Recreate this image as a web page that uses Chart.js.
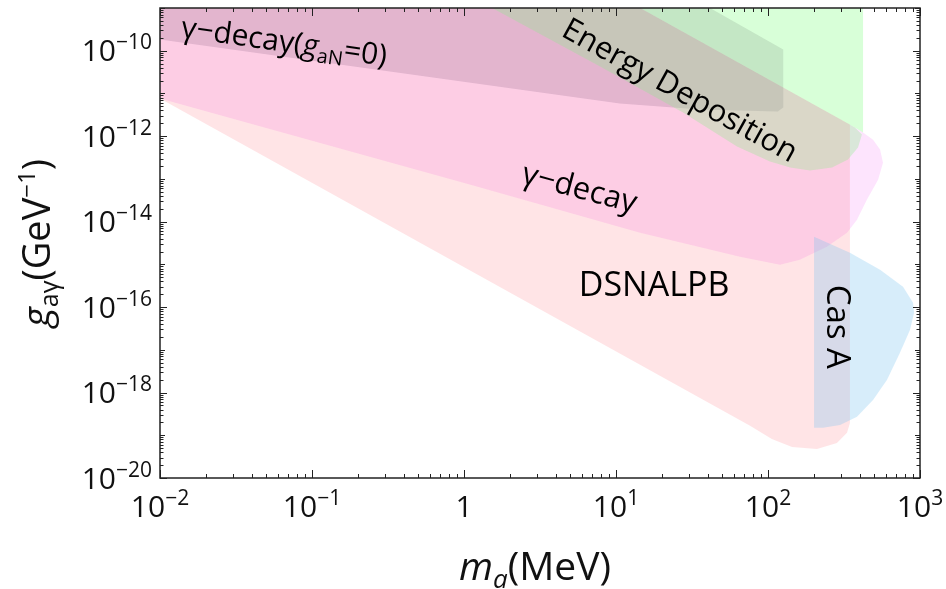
<!DOCTYPE html>
<html lang="en">

<head>
    <meta charset="UTF-8">
    <title>ALP photon coupling bounds</title>
    <script src="https://cdn.jsdelivr.net/npm/chart.js"></script>
    <style>
        body {
            margin: 0;
            background: #fff;
        }
    </style>
</head>

<body>
    <canvas id="bounds" width="946" height="589"></canvas>
    <script>
        // axis ranges and tick exponents
        const massRange = [0.01, 1000];
        const couplingRange = [1e-20, 1e-9];
        const xTickExp = [-2, -1, 0, 1, 2, 3];
        const yTickExp = [-20, -18, -16, -14, -12, -10];

        // gamma-decay region (m_a in MeV, g_ag in GeV^-1)
        const gDecayMass = [0.01, 14.4, 373, 422, 491, 546, 571, 530, 448, 385, 331, 244, 162, 120, 65.4, 14.4, 1.09, 0.01];
        const gDecayCoupling = [1e-9, 1e-9, 1.6e-12, 1.22e-12, 8.3e-13, 4.9e-13, 2.4e-13, 9.6e-14, 3.3e-14, 1.11e-14, 5.5e-15, 2.6e-15, 1.29e-15, 9.8e-16, 1.51e-15, 5.5e-15, 7.4e-14, 7.6e-12];

        // DSNALPB
        const dsnMass = [0.01, 14.4, 346, 346, 331, 284, 210, 144, 106, 76.2, 0.01];
        const dsnCoupling = [1e-9, 1e-9, 1.87e-12, 1.95e-19, 1.14e-19, 6.6e-20, 4.8e-20, 5.3e-20, 8.2e-20, 1.66e-19, 7.6e-12];

        // gamma-decay with g_aN = 0
        const gNullMass = [0.01, 41.5, 126, 126, 116, 35.7, 10.6, 0.01];
        const gNullCoupling = [1e-9, 1e-9, 1.07e-10, 4.7e-12, 3.8e-12, 4.2e-12, 5.8e-12, 1.84e-10];

        // green upper region
        const greenMass = [14.4, 422, 422, 373];
        const greenCoupling = [1e-9, 1e-9, 1.22e-12, 1.6e-12];

        // energy deposition band
        const edMass = [1.53, 14.4, 373, 415, 391, 336, 264, 189, 140, 103, 62.5, 27.6, 7.85];
        const edCoupling = [1e-9, 1e-9, 1.6e-12, 1.09e-12, 5.4e-13, 2.84e-13, 1.84e-13, 1.57e-13, 1.84e-13, 2.55e-13, 5.7e-13, 3.6e-12, 4.3e-11];

        // Cas A
        const casMass = [201, 346, 546, 773, 900, 914, 859, 738, 607, 491, 385, 298, 230, 201];
        const casCoupling = [4.4e-15, 1.87e-15, 7.5e-16, 3.0e-16, 1.26e-16, 7.4e-17, 2.9e-17, 8.5e-18, 1.98e-18, 6.7e-19, 2.7e-19, 1.75e-19, 1.49e-19, 1.49e-19];

        // region labels: anchor (data coords) and rotation in degrees
        const labelMass = [0.01355, 4.28, 2.34, 17.8, 280];
        const labelCoupling = [2.1e-10, 2.29e-10, 8.2e-14, 3.0e-16, 3.46e-17];
        const labelAngle = [8, 29, 15, 0, 90];

        const FONT = "'Open Sans', 'DejaVu Sans', sans-serif";

        function toPoints(xs, ys) {
            return xs.map((v, i) => ({ x: v, y: ys[i] }));
        }

        function region(label, xs, ys, color, order) {
            return {
                label: label,
                data: toPoints(xs, ys),
                showLine: true,
                fill: 'shape',
                backgroundColor: color,
                borderColor: 'rgba(0,0,0,0)',
                borderWidth: 0,
                pointRadius: 0,
                order: order
            };
        }

        // draws a run of text pieces [text, font, dy] one after another
        function richText(ctx, parts, x, y, angle, align, baseline) {
            ctx.save();
            ctx.translate(x, y);
            ctx.rotate(angle * Math.PI / 180);
            ctx.textBaseline = baseline || 'alphabetic';
            ctx.textAlign = 'left';
            let w = 0;
            parts.forEach(p => {
                ctx.font = p[1];
                w += ctx.measureText(p[0]).width;
            });
            let cx = align === 'center' ? -w / 2 : (align === 'right' ? -w : 0);
            parts.forEach(p => {
                ctx.font = p[1];
                ctx.fillText(p[0], cx, p[2] || 0);
                cx += ctx.measureText(p[0]).width;
            });
            ctx.restore();
        }

        function expLabel(e) {
            if (e === 0) return [['1', '30px ' + FONT]];
            return [['10', '30px ' + FONT], [(e < 0 ? '\u2212' : '') + Math.abs(e), '21px ' + FONT, -12]];
        }

        const decorations = {
            id: 'decorations',
            afterDatasetsDraw(chart) {
                const { ctx, chartArea: a, scales: { x, y } } = chart;
                ctx.save();
                ctx.fillStyle = '#000';

                // region labels
                const labelParts = [
                    [['\u03b3\u2212decay(', '30px ' + FONT], ['g', 'italic 30px ' + FONT], ['aN', '20px ' + FONT, 6], ['=0)', '30px ' + FONT]],
                    [['Energy Deposition', '31px ' + FONT]],
                    [['\u03b3\u2212decay', '31px ' + FONT]],
                    [['DSNALPB', '34px ' + FONT]],
                    [['Cas A', '33px ' + FONT]]
                ];
                labelParts.forEach((parts, i) => {
                    const px = x.getPixelForValue(labelMass[i]);
                    const py = y.getPixelForValue(labelCoupling[i]);
                    const centred = i >= 3;
                    richText(ctx, parts, px, py, labelAngle[i], centred ? 'center' : 'left', centred ? 'middle' : 'alphabetic');
                });

                // ticks on all four sides
                ctx.strokeStyle = '#222';
                ctx.lineWidth = 1;
                ctx.beginPath();
                for (let e = -2; e <= 3; e++) {
                    for (let k = 1; k <= 9; k++) {
                        const v = k * Math.pow(10, e);
                        if (v > massRange[1] * 1.0001) break;
                        const px = Math.round(x.getPixelForValue(v)) + 0.5;
                        const len = k === 1 ? 8 : 4;
                        ctx.moveTo(px, a.bottom); ctx.lineTo(px, a.bottom - len);
                        ctx.moveTo(px, a.top); ctx.lineTo(px, a.top + len);
                    }
                }
                for (let e = -20; e <= -9; e++) {
                    for (let k = 1; k <= 9; k++) {
                        const v = k * Math.pow(10, e);
                        if (v > couplingRange[1] * 1.0001) break;
                        const py = Math.round(y.getPixelForValue(v)) + 0.5;
                        const len = k === 1 ? (e % 2 === 0 ? 7 : 5) : 3.5;
                        ctx.moveTo(a.left, py); ctx.lineTo(a.left + len, py);
                        ctx.moveTo(a.right, py); ctx.lineTo(a.right - len, py);
                    }
                }
                ctx.stroke();

                // frame
                ctx.lineWidth = 1.5;
                ctx.strokeRect(a.left, a.top, a.right - a.left, a.bottom - a.top);

                // tick labels
                ctx.fillStyle = '#111';
                xTickExp.forEach(e => {
                    richText(ctx, expLabel(e), x.getPixelForValue(Math.pow(10, e)), 517, 0, 'center');
                });
                yTickExp.forEach(e => {
                    richText(ctx, expLabel(e), 152, y.getPixelForValue(Math.pow(10, e)) + 10.7, 0, 'right');
                });

                // axis titles
                richText(ctx, [['m', 'italic 39px ' + FONT], ['a', 'italic 26px ' + FONT, 8], ['(MeV)', '39px ' + FONT]],
                    535, 580, 0, 'center');
                richText(ctx, [['g', 'italic 38px ' + FONT], ['a\u03b3', '25px ' + FONT, 8], ['(GeV', '38px ' + FONT],
                    ['\u22121', '24px ' + FONT, -15], [')', '38px ' + FONT]],
                    50, (a.top + a.bottom) / 2, -90, 'center');
                ctx.restore();
            }
        };

        new Chart(document.getElementById('bounds'), {
            type: 'scatter',
            data: {
                datasets: [
                    region('Cas A', casMass, casCoupling, 'rgba(122,195,238,0.3)', 1),
                    region('Energy Deposition', edMass, edCoupling, 'rgba(136,238,135,0.3)', 2),
                    region('upper', greenMass, greenCoupling, 'rgba(100,255,100,0.25)', 3),
                    region('gamma-decay (gaN=0)', gNullMass, gNullCoupling, 'rgba(75,40,80,0.15)', 4),
                    region('DSNALPB', dsnMass, dsnCoupling, 'rgba(255,72,86,0.148)', 5),
                    region('gamma-decay', gDecayMass, gDecayCoupling, 'rgba(245,140,245,0.23)', 6)
                ]
            },
            options: {
                responsive: false,
                animation: false,
                devicePixelRatio: 1,
                layout: { padding: { top: 8, right: 26, left: 0, bottom: 0 } },
                plugins: { legend: { display: false }, tooltip: { enabled: false } },
                scales: {
                    x: {
                        type: 'logarithmic', min: massRange[0], max: massRange[1],
                        grid: { display: false }, border: { display: false }, ticks: { display: false },
                        afterFit(s) { s.height = 111; }
                    },
                    y: {
                        type: 'logarithmic', min: couplingRange[0], max: couplingRange[1],
                        grid: { display: false }, border: { display: false }, ticks: { display: false },
                        afterFit(s) { s.width = 160; }
                    }
                }
            },
            plugins: [decorations]
        });
    </script>
</body>

</html>
